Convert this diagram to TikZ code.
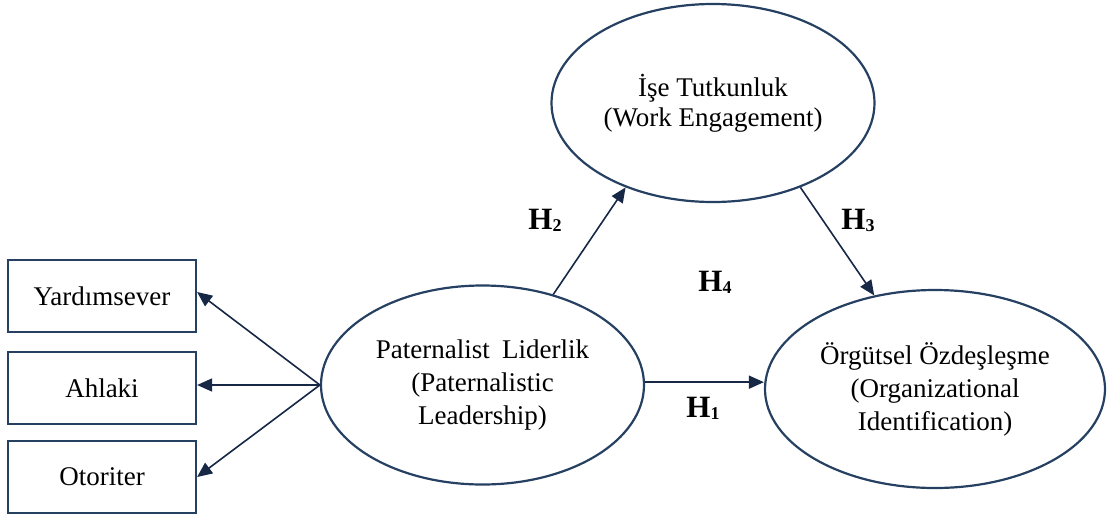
\documentclass[tikz,border=0pt]{standalone}
\usepackage{fontspec}
\setmainfont{Liberation Serif}
\usetikzlibrary{shapes.geometric,arrows.meta}
\definecolor{edge}{RGB}{38,64,98}
\definecolor{navy}{RGB}{22,40,70}
\newcommand{\hyplabel}[1]{H\raisebox{-2pt}{\fontsize{18}{18}\selectfont #1}}
\begin{document}
\begin{tikzpicture}[x=1pt,y=-1pt,
  every node/.style={font=\fontsize{27}{33}\selectfont, text=black},
  construct/.style={ellipse, draw=edge, line width=2.2pt, inner sep=0pt, align=center},
  dimbox/.style={rectangle, draw=edge, line width=2.2pt, minimum width=188pt,
                 minimum height=72pt, inner sep=0pt},
  link/.style={draw=navy, line width=1.6pt, -{Triangle[length=15pt,width=13pt]}},
  hyp/.style={font=\fontsize{31}{31}\selectfont\bfseries, inner sep=0pt}
]
\useasboundingbox (0,0) rectangle (1109,515);

% latent constructs
\node[construct, minimum width=323pt, minimum height=198pt,
      font=\fontsize{27}{30}\selectfont] (work) at (713,103)
  {İşe Tutkunluk\\(Work Engagement)};
\node[construct, minimum width=323pt, minimum height=199pt] (lead) at (482.5,385)
  {Paternalist\hspace{0.2em} Liderlik\\(Paternalistic\\Leadership)};
\node[construct, minimum width=340pt, minimum height=198pt] (ident) at (935,389)
  {Örgütsel Özdeşleşme\\(Organizational\\Identification)};

% leadership dimensions
\node[dimbox] (yard) at (102,296) {Yardımsever};
\node[dimbox] (ahla) at (102,388) {Ahlaki};
\node[dimbox] (otor) at (102,477) {Otoriter};

% dimension arrows
\draw[link] (lead.west) -- ([yshift=4pt]yard.east);
\draw[link] (lead.west) -- (lead.west -| ahla.east);
\draw[link] (lead.west) -- (otor.east);

% hypothesised paths
\draw[link] (lead.1.2) -- (lead.1.2 -| ident.west);
\draw[link] (lead.52.8) -- (work.224.7);
\draw[link] (work.316) -- (ident.123.4);

% hypothesis labels
\node[hyp] (h1) at (703,408) {\hyplabel{1}};
\node[hyp] (h2) at (545,220) {\hyplabel{2}};
\node[hyp] (h3) at (858,220) {\hyplabel{3}};
\node[hyp] (h4) at (715,282) {\hyplabel{4}};
\end{tikzpicture}
\end{document}
